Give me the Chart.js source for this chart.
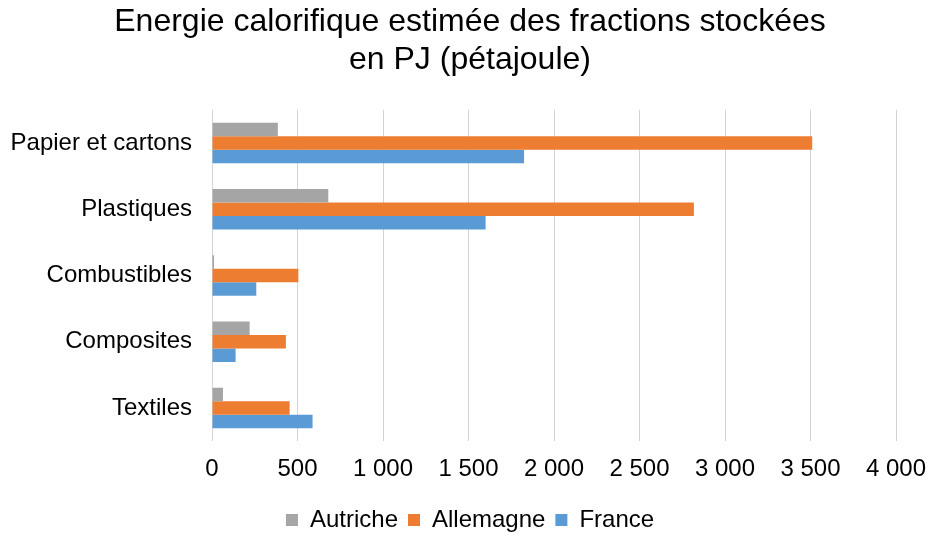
<!DOCTYPE html>
<html>
<head>
<meta charset="utf-8">
<script src="https://cdn.jsdelivr.net/npm/chart.js@4"></script>
<style>
	html, body { margin: 0; padding: 0; background: #fff; }
	#wrap { width: 928px; height: 535px; }
</style>
</head>
<body>
<div id="wrap"><canvas id="chart" width="928" height="535"></canvas></div>
<script>
// values (PJ)
const categories = ['Papier et cartons', 'Plastiques', 'Combustibles', 'Composites', 'Textiles'];
const autriche = [385, 680, 12, 220, 64];
const allemagne = [3510, 2818, 505, 432, 454];
const france = [1825, 1600, 259, 138, 588];
const xTicks = [0, 500, 1000, 1500, 2000, 2500, 3000, 3500, 4000];

const font = "'Liberation Sans', Arial, sans-serif";

function fmt(v) {
	// french thousands separator
	return String(v).replace(/\B(?=(\d{3})+(?!\d))/g, ' ');
}

// pull the legend a bit closer to the bottom edge
const legendShrink = {
	id: 'legendShrink',
	beforeInit(chart) {
		const legend = chart.legend;
		if (!legend) return;
		const fit = legend.fit;
		legend.fit = function () {
			fit.call(this);
			this.height -= 7;
		};
	}
};

const ctx = document.getElementById('chart').getContext('2d');
new Chart(ctx, {
	type: 'bar',
	data: {
		labels: categories,
		datasets: [
			{ label: 'Autriche', data: autriche, backgroundColor: '#a5a5a5' },
			{ label: 'Allemagne', data: allemagne, backgroundColor: '#ed7d31' },
			{ label: 'France', data: france, backgroundColor: '#5b9bd5' }
		]
	},
	plugins: [legendShrink],
	options: {
		indexAxis: 'y',
		responsive: false,
		animation: false,
		devicePixelRatio: 1,
		layout: { padding: { left: 12, right: 0, top: 3, bottom: 0 } },
		datasets: {
			bar: { categoryPercentage: 0.61, barPercentage: 1.0 }
		},
		plugins: {
			title: {
				display: true,
				text: ['Energie calorifique estimée des fractions stockées', 'en PJ (pétajoule)'],
				color: '#000',
				font: { family: font, size: 32, weight: 'normal', lineHeight: 1.2 },
				padding: { top: 0, bottom: 30 }
			},
			legend: {
				position: 'bottom',
				labels: {
					color: '#000',
					font: { family: font, size: 24 },
					boxWidth: 12,
					boxHeight: 12,
					padding: 10
				}
			},
			tooltip: { enabled: false }
		},
		scales: {
			x: {
				min: 0,
				max: 4000,
				afterBuildTicks: axis => { axis.ticks = xTicks.map(v => ({ value: v })); },
				afterFit: axis => { axis.paddingLeft = 0; axis.paddingRight = 32; },
				ticks: {
					color: '#000',
					font: { family: font, size: 24 },
					padding: 14,
					maxRotation: 0,
					callback: v => fmt(v)
				},
				grid: { color: '#d4d4d4', lineWidth: 1, drawTicks: false },
				border: { display: false }
			},
			y: {
				afterFit: axis => { axis.width = 200; },
				ticks: {
					color: '#000',
					font: { family: font, size: 24 },
					padding: 12
				},
				grid: { display: false },
				border: { display: false }
			}
		}
	}
});
</script>
</body>
</html>
